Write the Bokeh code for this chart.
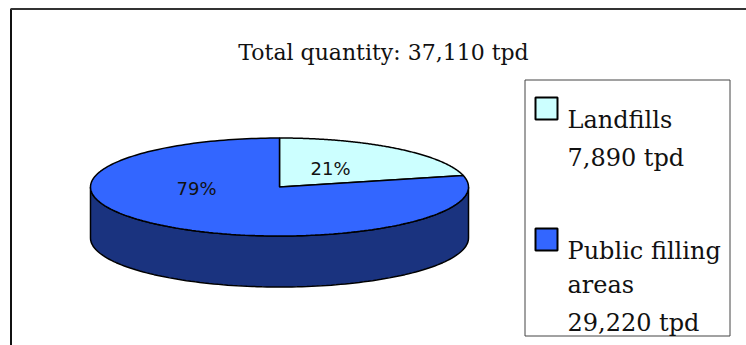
import numpy as np
from bokeh.plotting import figure
from bokeh.models import Range1d
from bokeh.core.properties import value
from bokeh.embed import file_html
from bokeh.resources import INLINE

# ---- data ----
categories = ["Landfills", "Public filling areas"]
legend_lines = [["Landfills"], ["Public filling", "areas"]]
quantities = [7890, 29220]
unit = "tpd"
top_colors = ["#CCFFFF", "#3366FF"]
side_colors = ["#668080", "#1A337F"]

total = sum(quantities)
fractions = [q / total for q in quantities]
pct_labels = [f"{round(f * 100)}%" for f in fractions]

# ---- layout (pixels, y downwards) ----
W, H = 746, 345
cx, cy, rx, ry, depth = 279.0, 186.5, 189.0, 49.0, 51.0
label_pos = [(330, 168), (196, 188)]

p = figure(width=W, height=H, x_range=Range1d(0, W), y_range=Range1d(H, 0),
           output_backend="svg", toolbar_location=None, min_border=0)
p.axis.visible = False
p.grid.visible = False
p.outline_line_color = None
p.background_fill_color = "white"
p.border_fill_color = "white"

# frame lines (left and top)
p.line([10.5, 10.5], [345, 8.5], line_color="#111111", line_width=2)
p.line([10, 746], [8.5, 8.5], line_color="#333333", line_width=2)

def ept(t, dy=0.0):
    return cx + rx * np.cos(t), cy - ry * np.sin(t) + dy

# slice angles (degrees), clockwise from 12 o'clock
starts, ends = [], []
a = 90.0
for f in fractions:
    starts.append(a)
    ends.append(a - f * 360.0)
    a -= f * 360.0

# side walls (front half: t in [-180, 0])
for i in range(len(quantities)):
    s, e = starts[i], ends[i]
    for k in (-360, 0, 360):
        lo = max(e + k, -180.0)
        hi = min(s + k, 0.0)
        if hi > lo:
            t = np.radians(np.linspace(hi, lo, 120))
            xt, yt = ept(t)
            xb, yb = ept(t[::-1], depth)
            p.patch(np.concatenate([xt, xb]), np.concatenate([yt, yb]),
                    fill_color=side_colors[i], line_color="black", line_width=1.5)

# top surface
for i in range(len(quantities)):
    t = np.radians(np.linspace(starts[i], ends[i], 200))
    xs, ys = ept(t)
    xs = np.concatenate([[cx], xs, [cx]])
    ys = np.concatenate([[cy], ys, [cy]])
    p.patch(xs, ys, fill_color=top_colors[i], line_color="black", line_width=1.5)

# percentage labels
p.text(x=[lp[0] for lp in label_pos], y=[lp[1] for lp in label_pos], text=pct_labels,
       text_font=value("DejaVu Sans"), text_font_size="18px", text_color="#111111",
       text_align="center", text_baseline="middle")

# title
p.text(x=[383], y=[52], text=[f"Total quantity: {total:,} {unit}"],
       text_font=value("DejaVu Serif"), text_font_size="22px", text_color="#111111",
       text_align="center", text_baseline="alphabetic")

# legend box
p.quad(left=[524.5], right=[729.5], top=[79.5], bottom=[335.5],
       fill_color="white", line_color="#444444", line_width=1)
sq_top = [97, 228]
p.quad(left=[535, 535], right=[557, 557], top=sq_top, bottom=[t + 22 for t in sq_top],
       fill_color=top_colors, line_color="black", line_width=2)

baselines = [[119, 157], [250, 284, 322]]
lx, ly, lt = [], [], []
for i in range(len(quantities)):
    lines = legend_lines[i] + [f"{quantities[i]:,} {unit}"]
    for j, s in enumerate(lines):
        lx.append(567)
        ly.append(baselines[i][j])
        lt.append(s)
p.text(x=lx, y=ly, text=lt, text_font=value("DejaVu Serif"), text_font_size="24px",
       text_color="#111111", text_align="left", text_baseline="alphabetic")

open("out.html", "w").write(file_html(p, INLINE))
